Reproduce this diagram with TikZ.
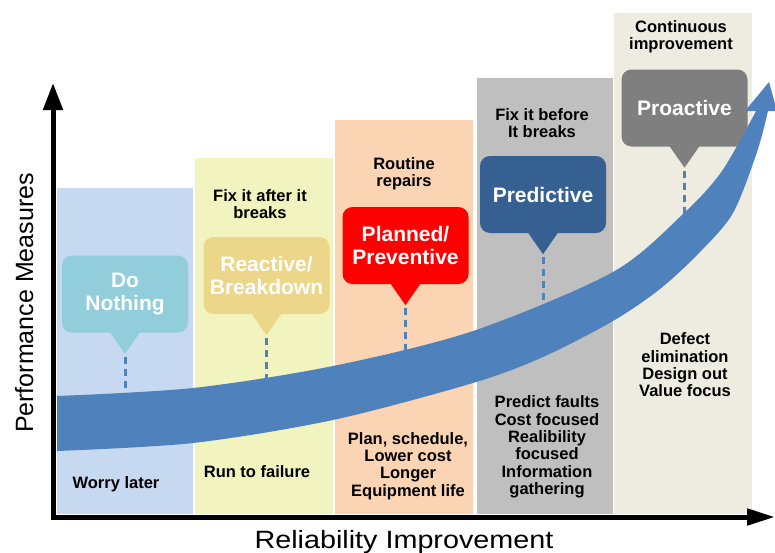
\documentclass[tikz,border=0pt]{standalone}
\usepackage{fontspec}
\setmainfont{Liberation Sans}
\usetikzlibrary{arrows.meta,positioning}

\definecolor{colblue}{HTML}{C6D9F0}
\definecolor{colyellow}{HTML}{F1F4BF}
\definecolor{colpeach}{HTML}{FBD4B4}
\definecolor{colgray}{HTML}{BFBFBF}
\definecolor{colbeige}{HTML}{EEECE1}
\definecolor{bandblue}{HTML}{4F81BD}
\definecolor{nothingclr}{HTML}{92CDDC}
\definecolor{reactiveclr}{HTML}{EBD68A}
\definecolor{plannedclr}{HTML}{FF0000}
\definecolor{predictiveclr}{HTML}{366092}
\definecolor{proactiveclr}{HTML}{7F7F7F}

\tikzset{
  callout/.style={rounded corners=10pt, text=white, align=center,
    font=\fontsize{21}{22.5}\selectfont\bfseries,
    minimum width=126pt, minimum height=77pt, inner sep=1pt},
  note/.style={align=center, inner sep=0pt,
    font=\fontsize{16.5}{17.3}\selectfont\bfseries},
  axislabel/.style={font=\fontsize{25}{30}\selectfont, inner sep=0pt},
  axis/.style={line width=5pt},
  guide/.style={bandblue, line width=3pt, dash pattern=on 7pt off 5pt},
}

\begin{document}
\begin{tikzpicture}[x=1pt,y=-1pt]
\useasboundingbox (0,0) rectangle (775,552);

\foreach \clr/\xa/\xb/\yt in {colblue/57/193/188, colyellow/195/333/158,
    colpeach/335/473/120, colgray/477/613/78, colbeige/614/752/13} {
  \fill[\clr] (\xa,\yt) rectangle (\xb,514);
}

\node[callout, fill=nothingclr] (nothing) at (125,294) {Do\\Nothing};
\node[callout, fill=reactiveclr] (reactive) at (266.5,275.5) {Reactive/\\Breakdown};
\node[callout, fill=plannedclr] (planned) at (405.5,245.5) {Planned/\\Preventive};
\node[callout, fill=predictiveclr] (predictive) at (543,194.5) {Predictive};
\node[callout, fill=proactiveclr] (proactive) at (684.5,108) {Proactive};

\coordinate (bandnothing) at (123,400);
\coordinate (bandreactive) at (265,383);
\coordinate (bandplanned) at (405,355);
\coordinate (bandpredictive) at (543,306);
\coordinate (bandproactive) at (684,218);

\foreach \n/\c in {nothing/nothingclr, reactive/reactiveclr, planned/plannedclr,
    predictive/predictiveclr, proactive/proactiveclr} {
  \coordinate (tip\n) at ([yshift=-21pt]\n.south);
  \fill[\c] ([xshift=-16pt,yshift=2pt]\n.south) -- (tip\n)
    -- ([xshift=16pt,yshift=2pt]\n.south) -- cycle;
  \draw[guide] ([yshift=-3pt]tip\n) -- (tip\n |- band\n);
}

\fill[bandblue] plot[smooth, tension=0.5] coordinates {(57,396) (193,388)
    (333,366) (473,331) (613,272) (684,213) (722,171) (756,111)}
  -- (745,111) -- (769,82) -- (777,111) -- (768,111)
  -- plot[smooth, tension=0.5] coordinates {(768,111) (757,152) (733,213)
    (700,252) (660,289) (613,321) (543,357) (473,383) (333,420)
    (193,443) (57,451)} -- cycle;

\node[note] (worry) at (116,484) {Worry later};
\node[note] (fixafter) at (260,204) {Fix it after it\\breaks};
\node[note] (runfail) at (257,472) {Run to failure};
\node[note] (routine) at (404,174) {Routine\\repairs};
\node[note] (plan) at (408,466) {Plan, schedule,\\Lower cost\\Longer\\Equipment life};
\node[note] (fixbefore) at (542,123) {Fix it before\\It breaks};
\node[note] (predict) at (547,447) {Predict faults\\Cost focused\\Realibility\\focused\\Information\\gathering};
\node[note] (continuous) at (681,37) {Continuous\\improvement};
\node[note] (defect) at (685,365) {Defect\\elimination\\Design out\\Value focus};

\coordinate (origin) at (53,517);
\coordinate (ytop) at (53,83);
\coordinate (xend) at (775,517);
\draw[axis, -{Triangle[length=27pt,width=19pt]}] ([yshift=-2.5pt]origin) -- (ytop);
\draw[axis, -{Triangle[length=28pt,width=16pt]}] ([xshift=-2.5pt]origin) -- (xend);

\node[axislabel, xscale=1.15, anchor=base] (xlabel) at (404,548) {Reliability Improvement};
\node[axislabel, rotate=90, anchor=base] (ylabel) at (33,303) {Performance Measures};
\end{tikzpicture}
\end{document}
